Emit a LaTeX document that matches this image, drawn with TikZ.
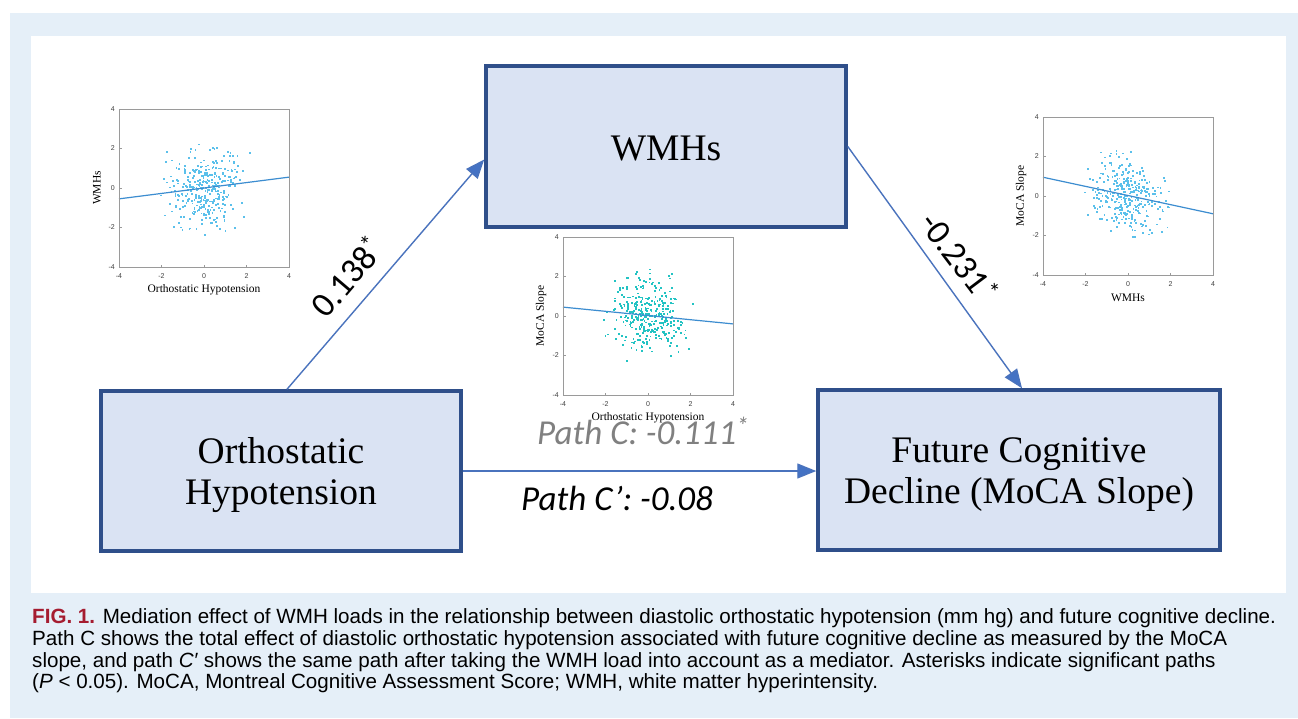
\documentclass[tikz,border=0pt]{standalone}
\usepackage{fontspec}
\setmainfont{Liberation Serif}
\newfontfamily\calfont{Carlito}
\newfontfamily\capfont{Liberation Sans}
\usetikzlibrary{arrows.meta,calc}
\definecolor{bgblue}{HTML}{E5EFF8}
\definecolor{boxfill}{HTML}{DAE3F3}
\definecolor{boxline}{HTML}{2F4F8A}
\definecolor{arrblue}{HTML}{4472C4}
\definecolor{dotblue}{HTML}{5BC0EB}
\definecolor{dotcyan}{HTML}{22C3C3}
\definecolor{fitblue}{HTML}{3C8DD0}
\definecolor{axgray}{HTML}{9A9A9A}
\definecolor{figred}{HTML}{A51C30}
\definecolor{pathgray}{HTML}{808080}
\tikzset{
  mybox/.style={draw=boxline, line width=3.5pt, fill=boxfill, inner sep=0pt},
  boxtxt/.style={align=center, font=\fontsize{37.5}{41}\selectfont, inner sep=0pt},
  arr/.style={draw=arrblue!90!gray, line width=1.4pt,
    -{Triangle[length=19pt,width=15pt,fill=arrblue]}},
  coef/.style={font=\calfont\fontsize{35}{38}\selectfont},
  ticklab/.style={font=\capfont\fontsize{7}{8}\selectfont, text=black!75, inner sep=0pt},
  axlab/.style={font=\fontsize{11.5}{13}\selectfont, inner sep=0pt},
  capline/.style={font=\capfont\fontsize{20.6}{21.7}\selectfont, anchor=base west, inner sep=0pt}
}
% #1 origin, #2 seed, #3 slope, #4 dot colour, #5 x label, #6 y label, #7 line y at -4, #8 line y at 4, #9 y noise
\newcommand\myscatter[9]{%
\begin{scope}[shift={(#1)}]
  \begin{scope}
  \clip (0,0) rectangle (170,158);
  \pgfmathsetseed{#2}
  \foreach \i in {1,...,340}{
    \pgfmathsetmacro\xx{0.8*(rand+rand+rand)}
    \pgfmathsetmacro\yy{#3*\xx+#9*(rand+rand+rand)}
    \fill[#4] ({(\xx+4)*21.25-0.9},{(4-\yy)*19.75-0.9}) rectangle ++(1.8,1.8);
  }
  \end{scope}
  \draw[fitblue, line width=1.2pt] (0,{(4-#7)*19.75}) -- (170,{(4-#8)*19.75});
  \draw[axgray, line width=0.7pt] (0,0) rectangle (170,158);
  \foreach \t in {-4,-2,0,2,4}{
    \draw[axgray, line width=0.5pt] ({(\t+4)*21.25},158) -- ++(0,-2.5);
    \draw[axgray, line width=0.5pt] (0,{(4-\t)*19.75}) -- ++(2.5,0);
    \node[ticklab] at ({(\t+4)*21.25},167) {\t};
    \node[ticklab, anchor=east] at (-4,{(4-\t)*19.75}) {\t};
  }
  \node[axlab] at (85,181) {#5};
  \node[axlab, rotate=90] at (-22,79) {#6};
\end{scope}}
\begin{document}
\begin{tikzpicture}[x=1pt,y=-1pt]
\useasboundingbox (0,0) rectangle (1298,718);
\fill[bgblue] (10,13) rectangle (1298,718);
\fill[white] (31,36) rectangle (1286,593);

% scatter plots
\myscatter{119,109}{11}{0.14}{dotblue}{Orthostatic Hypotension}{WMHs}{-0.55}{0.55}{0.95}
\myscatter{563,237}{23}{-0.1}{dotcyan}{Orthostatic Hypotension}{MoCA Slope}{0.45}{-0.4}{0.9}
\myscatter{1043,117}{37}{-0.22}{dotblue}{WMHs}{MoCA Slope}{0.95}{-0.9}{0.92}

% boxes
\node[mybox, minimum width=360pt, minimum height=161pt] (wmh) at (666,146.5) {};
\node[mybox, minimum width=360pt, minimum height=160pt] (oh) at (281,471) {};
\node[mybox, minimum width=402pt, minimum height=160pt] (fcd) at (1019,470) {};
\node[boxtxt] (wmhtxt) at (666,149) {WMHs};
\node[boxtxt] (ohtxt) at (281,475.5) {Orthostatic\\Hypotension};
\node[boxtxt] (fcdtxt) at (1019,474.5) {Future Cognitive\\Decline (MoCA Slope)};

% connectors
\draw[arr] ([xshift=6pt]oh.north) -- ([yshift=-13pt]wmh.west);
\draw[arr] (wmh.east) -- ([xshift=3pt]fcd.north);
\draw[arr] (oh.east) -- (oh.east -| fcd.west);

% coefficients
\node[coef, rotate=49.5] (c1) at (347,276) {0.138\textsuperscript{*}};
\node[coef, rotate=-53] (c2) at (960,257) {-0.231\textsuperscript{*}};
\node[coef, text=pathgray, anchor=base west, inner sep=0pt] (pc) at (537,444) {\itshape Path C: -0.111\textsuperscript{*}};
\node[coef, anchor=base west, inner sep=0pt] (pcp) at (521,510) {\itshape Path C’: -0.08};

% caption
\node[capline] (cap1) at (32,623) {\textcolor{figred}{\bfseries FIG. 1.} Mediation effect of WMH loads in the relationship between diastolic orthostatic hypotension (mm hg) and future cognitive decline.};
\node[capline] (cap2) at (32,645.5) {Path C shows the total effect of diastolic orthostatic hypotension associated with future cognitive decline as measured by the MoCA};
\node[capline] (cap3) at (32,667) {slope, and path \textit{C′} shows the same path after taking the WMH load into account as a mediator. Asterisks indicate significant paths};
\node[capline] (cap4) at (32,688.5) {(\textit{P} < 0.05). MoCA, Montreal Cognitive Assessment Score; WMH, white matter hyperintensity.};
\end{tikzpicture}
\end{document}
